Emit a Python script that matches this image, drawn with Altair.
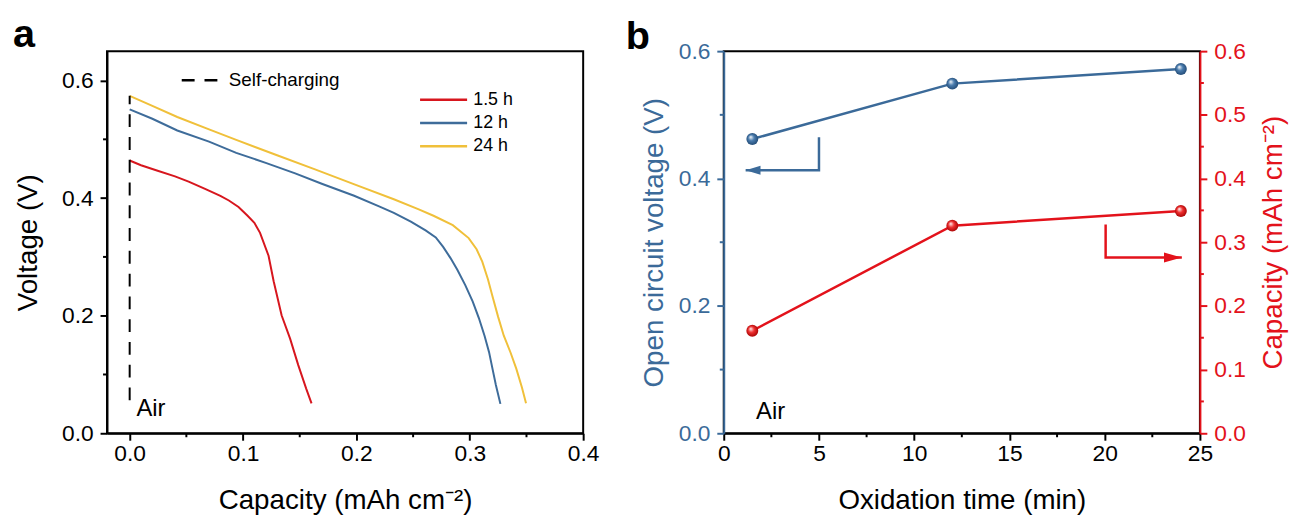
import altair as alt
import pandas as pd

FONT = "Liberation Sans"

# ---------------- Panel a : discharge curves ----------------
series_names = ["1.5 h", "12 h", "24 h"]
series_colors = ["#d7161e", "#3e6c9a", "#f0c03a"]

cap_15 = [0.000, 0.010, 0.024, 0.040, 0.052, 0.066, 0.080, 0.0875, 0.096, 0.104, 0.110,
          0.115, 0.1225, 0.127, 0.134, 0.1415, 0.1487, 0.1557, 0.1604]
volt_15 = [0.464, 0.456, 0.447, 0.437, 0.428, 0.416, 0.404, 0.396, 0.385, 0.370, 0.358,
           0.341, 0.302, 0.2585, 0.2007, 0.161, 0.116, 0.076, 0.051]

cap_12 = [0.000, 0.020, 0.042, 0.070, 0.094, 0.120, 0.146, 0.170, 0.198, 0.220, 0.233,
          0.248, 0.261, 0.270, 0.2765, 0.283, 0.289, 0.296, 0.3026, 0.308, 0.313,
          0.317, 0.320, 0.323, 0.327]
volt_12 = [0.551, 0.535, 0.515, 0.496, 0.477, 0.460, 0.442, 0.424, 0.404, 0.386, 0.375,
           0.360, 0.345, 0.333, 0.317, 0.298, 0.278, 0.252, 0.224, 0.196, 0.166,
           0.138, 0.110, 0.082, 0.050]

cap_24 = [0.000, 0.020, 0.042, 0.070, 0.094, 0.130, 0.1635, 0.200, 0.233, 0.255, 0.268,
          0.285, 0.299, 0.306, 0.311, 0.316, 0.320, 0.325, 0.330, 0.336, 0.341,
          0.346, 0.3496]
volt_24 = [0.574, 0.557, 0.538, 0.517, 0.499, 0.473, 0.449, 0.422, 0.398, 0.381, 0.370,
           0.354, 0.332, 0.313, 0.292, 0.262, 0.233, 0.198, 0.166, 0.137, 0.110,
           0.078, 0.051]

self_charge_cap = [0.0, 0.0]
self_charge_volt = [0.056, 0.574]

air_a_pos = [0.006, 0.029]

# tick positions
a_x_major = [0.0, 0.1, 0.2, 0.3, 0.4]
a_x_minor = [0.05, 0.15, 0.25, 0.35]
a_y_major = [0.0, 0.2, 0.4, 0.6]
a_y_minor = [0.1, 0.3, 0.5]

# ---------------- Panel b : OCV and capacity vs oxidation time ----------------
ox_time = [1.5, 12, 24]
ocv = [0.462, 0.549, 0.572]
capacity_b = [0.161, 0.326, 0.349]

blue_arrow_t = [5.0, 5.0, 1.15]
blue_arrow_y = [0.465, 0.413, 0.413]
red_arrow_t = [20.05, 20.05, 24.05]
red_arrow_y = [0.328, 0.276, 0.276]
air_b_pos = [1.7, 0.022]

b_x_major = [0, 5, 10, 15, 20, 25]
b_x_minor = [2.5, 7.5, 12.5, 17.5, 22.5]
b_yl_major = [0.0, 0.2, 0.4, 0.6]
b_yl_minor = [0.1, 0.3, 0.5]
b_yr_major = [0.0, 0.1, 0.2, 0.3, 0.4, 0.5, 0.6]
b_yr_minor = [0.05, 0.15, 0.25, 0.35, 0.45, 0.55]

BLUE = "#3b6a99"
RED = "#e3121b"
W, H = 481, 386
MAJ, MIN = 7, 4


def axis(values, fmt, color, title, orient, **kw):
    return alt.Axis(values=values, format=fmt, title=title, orient=orient,
                    ticks=True, tickSize=MAJ, tickWidth=2, tickOpacity=1,
                    domainColor=color, tickColor=color,
                    labelColor=color, titleColor=color,
                    labelFlush=False, labelOverlap=False, **kw)


def minor_x(values, xenc, color):
    return alt.Chart(pd.DataFrame({xenc.shorthand.split(":")[0]: values})).mark_rule(
        color=color, strokeWidth=2).encode(x=xenc, y=alt.value(H), y2=alt.value(H + MIN))


def minor_y(values, yenc, color, right=False):
    x0 = W if right else 0
    x1 = W + MIN if right else -MIN
    return alt.Chart(pd.DataFrame({yenc.shorthand.split(":")[0]: values})).mark_rule(
        color=color, strokeWidth=2).encode(y=yenc, x=alt.value(x0), x2=alt.value(x1))


rows = []
for name, xs, vs in zip(series_names, [cap_15, cap_12, cap_24], [volt_15, volt_12, volt_24]):
    for i, (x, v) in enumerate(zip(xs, vs)):
        rows.append({"series": name, "cap": x, "v": v, "idx": i})
df_a = pd.DataFrame(rows)

df_dash = pd.DataFrame({"cap": self_charge_cap, "v": self_charge_volt,
                        "kind": ["Self-charging"] * 2, "idx": [0, 1]})

xa = alt.X("cap:Q", scale=alt.Scale(domain=[-0.02, 0.4], nice=False, zero=False),
           axis=axis(a_x_major, ".1f", "black", "Capacity (mAh cm⁻²)", "bottom",
                     labelPadding=3, titlePadding=21))
ya = alt.Y("v:Q", scale=alt.Scale(domain=[0, 0.65], nice=False),
           axis=axis(a_y_major, ".1f", "black", "Voltage (V)", "left",
                     labelPadding=7, titlePadding=19))

lines_a = alt.Chart(df_a).mark_line(strokeWidth=2).encode(
    x=xa, y=ya, order="idx:Q",
    color=alt.Color("series:N", scale=alt.Scale(domain=series_names, range=series_colors),
                    legend=alt.Legend(orient="none", legendX=329, legendY=38, title=None,
                                      padding=0, symbolType="M-2.5,0L2.5,0", symbolSize=361,
                                      symbolStrokeWidth=2.5, labelOffset=19, rowPadding=3.5,
                                      labelFontSize=18, labelFont=FONT, labelColor="black")),
)

dash_a = alt.Chart(df_dash).mark_line(color="black", strokeWidth=2).encode(
    x=xa, y=ya, order="idx:Q",
    strokeDash=alt.StrokeDash("kind:N", scale=alt.Scale(domain=["Self-charging"], range=[[13, 10]]),
                              legend=alt.Legend(orient="none", legendX=84, legendY=18, title=None,
                                                padding=0, symbolType="M-2,0L2,0", symbolSize=400,
                                                symbolStrokeColor="black", symbolStrokeWidth=2.5,
                                                labelOffset=16, labelFontSize=19, labelFont=FONT,
                                                labelColor="black")),
)

air_a = alt.Chart(pd.DataFrame({"cap": [air_a_pos[0]], "v": [air_a_pos[1]], "t": ["Air"]})).mark_text(
    align="left", baseline="alphabetic", fontSize=24, font=FONT, color="black"
).encode(x=xa, y=ya, text="t:N")

label_a = alt.Chart(pd.DataFrame({"t": ["a"]})).mark_text(
    align="left", baseline="alphabetic", fontSize=40, fontWeight="bold", font=FONT, color="black"
).encode(x=alt.value(-95), y=alt.value(-4), text="t:N")

panel_a = alt.layer(
    lines_a, dash_a, air_a, label_a,
    minor_x(a_x_minor, xa, "black"), minor_y(a_y_minor, ya, "black"),
).properties(width=W, height=H)

# ---------------- panel b ----------------
xb = alt.X("t:Q", scale=alt.Scale(domain=[0, 25], nice=False),
           axis=axis(b_x_major, "d", "black", "Oxidation time (min)", "bottom",
                     labelPadding=3, titlePadding=21))
yl = alt.Y("y:Q", scale=alt.Scale(domain=[0, 0.6], nice=False),
           axis=axis(b_yl_major, ".1f", BLUE, "Open circuit voltage (V)", "left", zindex=1,
                     labelPadding=7, titlePadding=10))
yr = alt.Y("y:Q", scale=alt.Scale(domain=[0, 0.6], nice=False),
           axis=axis(b_yr_major, ".1f", RED, "Capacity (mAh cm⁻²)", "right", zindex=1,
                     titleAngle=270, titleBaseline="top", labelPadding=7, titlePadding=14))


def ball(mid, dark):
    return {"gradient": "radial", "x1": 0.35, "y1": 0.32, "r1": 0.0,
            "x2": 0.5, "y2": 0.5, "r2": 0.55,
            "stops": [{"offset": 0.0, "color": "#ffffff"},
                      {"offset": 0.45, "color": mid},
                      {"offset": 1.0, "color": dark}]}


df_ocv = pd.DataFrame({"t": ox_time, "y": ocv})
df_cap = pd.DataFrame({"t": ox_time, "y": capacity_b})
df_barrow = pd.DataFrame({"t": blue_arrow_t, "y": blue_arrow_y, "o": [0, 1, 2]})
df_rarrow = pd.DataFrame({"t": red_arrow_t, "y": red_arrow_y, "o": [0, 1, 2]})

blue_line = alt.Chart(df_ocv).mark_line(color=BLUE, strokeWidth=2.5).encode(x=xb, y=yl)
blue_pts = alt.Chart(df_ocv).mark_circle(size=145, opacity=1, fill=ball("#4a7cae", "#1f4670")).encode(x=xb, y=yl)
blue_arr = alt.Chart(df_barrow).mark_line(color=BLUE, strokeWidth=2.5).encode(x=xb, y=yl, order="o:Q")
blue_head = alt.Chart(df_barrow.iloc[[2]]).mark_point(
    shape="M0,0L2,-0.6L2,0.6Z", size=225, filled=True, color=BLUE, opacity=1
).encode(x=xb, y=yl)
air_b = alt.Chart(pd.DataFrame({"t": [air_b_pos[0]], "y": [air_b_pos[1]], "s": ["Air"]})).mark_text(
    align="left", baseline="alphabetic", fontSize=24, font=FONT, color="black"
).encode(x=xb, y=yl, text="s:N")
label_b = alt.Chart(pd.DataFrame({"s": ["b"]})).mark_text(
    align="left", baseline="alphabetic", fontSize=40, fontWeight="bold", font=FONT, color="black"
).encode(x=alt.value(-99), y=alt.value(-2), text="s:N")

red_line = alt.Chart(df_cap).mark_line(color=RED, strokeWidth=2.5).encode(x=xb, y=yr)
red_pts = alt.Chart(df_cap).mark_circle(size=145, opacity=1, fill=ball("#f03030", "#a00000")).encode(x=xb, y=yr)
red_arr = alt.Chart(df_rarrow).mark_line(color=RED, strokeWidth=2.5).encode(x=xb, y=yr, order="o:Q")
red_head = alt.Chart(df_rarrow.iloc[[2]]).mark_point(
    shape="M0,0L-2,-0.55L-2,0.55Z", size=324, filled=True, color=RED, opacity=1
).encode(x=xb, y=yr)

blue_grp = alt.layer(blue_line, blue_arr, blue_head, blue_pts, air_b, label_b,
                     minor_x(b_x_minor, xb, "black"), minor_y(b_yl_minor, yl, BLUE))
red_grp = alt.layer(red_line, red_arr, red_head, red_pts,
                    minor_y(b_yr_minor, yr, RED, right=True))
panel_b = alt.layer(blue_grp, red_grp).resolve_scale(y="independent").properties(width=W, height=H)

chart = alt.hconcat(panel_a, panel_b, spacing=25,
                    padding={"left": 4, "top": 4, "right": 2, "bottom": 0}).configure_view(
    stroke="black", strokeWidth=2
).configure_axis(
    labelFont=FONT, titleFont=FONT, labelFontSize=23, titleFontSize=28,
    titleFontWeight="normal", domainWidth=2, grid=False
)

chart.save("out.html", embed_options={"renderer": "svg", "actions": False})
